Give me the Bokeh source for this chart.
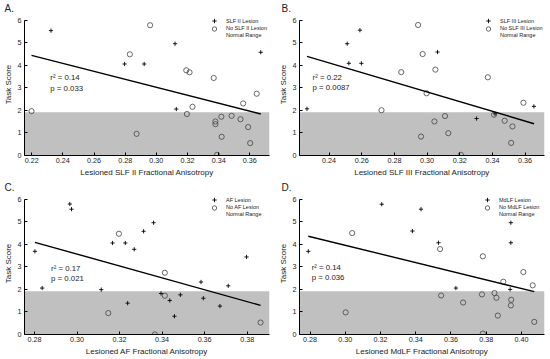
from bokeh.plotting import figure
from bokeh.models import (Range1d, FixedTicker, BoxAnnotation, Legend, LegendItem, Label,
                          PrintfTickFormatter)
from bokeh.layouts import gridplot
from bokeh.embed import file_html
from bokeh.resources import INLINE

# ---------------- data ----------------
y_ticks = [0, 1, 2, 3, 4, 5, 6]
normal_max = 1.92

# A. SLF II
slf2_lesion_fa = [0.2324, 0.2796, 0.2922, 0.3120, 0.3128, 0.3670]
slf2_lesion_score = [5.54, 4.06, 4.06, 4.96, 2.06, 4.58]
slf2_nolesion_fa = [0.2199, 0.2830, 0.2873, 0.2960, 0.3192, 0.3196, 0.3213, 0.3232, 0.3368, 0.3379,
                    0.3379, 0.3390, 0.3417, 0.3419, 0.3483, 0.3540, 0.3557, 0.3589, 0.3602, 0.3644]
slf2_nolesion_score = [1.97, 4.49, 0.96, 5.78, 3.78, 1.84, 3.69, 2.16, 3.44, 1.51,
                       1.39, 0.03, 1.72, 0.83, 1.76, 1.61, 2.31, 1.26, 0.55, 2.74]
slf2_fit_fa = [0.2199, 0.3670]
slf2_fit_score = [4.44, 1.84]
slf2_xticks = [0.22, 0.24, 0.26, 0.28, 0.30, 0.32, 0.34, 0.36]

# B. SLF III
slf3_lesion_fa = [0.2265, 0.2511, 0.2521, 0.2589, 0.2598, 0.3064, 0.3303, 0.3416, 0.3654]
slf3_lesion_score = [2.07, 4.96, 4.09, 5.56, 4.09, 4.59, 1.64, 1.85, 2.18]
slf3_nolesion_fa = [0.2721, 0.2842, 0.2945, 0.2973, 0.2963, 0.2997, 0.3045, 0.3051, 0.3110,
                    0.3130, 0.3207, 0.3372, 0.3410, 0.3475, 0.3515, 0.3523, 0.3590]
slf3_nolesion_score = [2.01, 3.70, 5.79, 4.50, 0.84, 2.76, 1.51, 3.81, 1.75,
                       0.99, 0.03, 3.47, 1.81, 1.54, 0.56, 1.29, 2.34]
slf3_fit_fa = [0.2265, 0.3655]
slf3_fit_score = [4.40, 1.41]
slf3_xticks = [0.24, 0.26, 0.28, 0.30, 0.32, 0.34, 0.36]

# C. AF
af_lesion_fa = [0.2802, 0.2836, 0.2966, 0.2974, 0.3114, 0.3167, 0.3227, 0.3238, 0.3269, 0.3313,
                0.3360, 0.3395, 0.3436, 0.3458, 0.3486, 0.3583, 0.3594, 0.3672, 0.3711, 0.3797]
af_lesion_score = [3.69, 2.06, 5.79, 5.56, 1.99, 4.06, 4.06, 1.39, 3.78, 4.58,
                   4.96, 1.82, 1.51, 0.81, 1.76, 2.33, 1.61, 1.26, 2.16, 3.44]
af_nolesion_fa = [0.3147, 0.3197, 0.3366, 0.3413, 0.3413, 0.3863]
af_nolesion_score = [0.95, 4.47, 0.00, 2.74, 1.72, 0.53]
af_fit_fa = [0.2802, 0.3863]
af_fit_score = [4.09, 1.29]
af_xticks = [0.28, 0.30, 0.32, 0.34, 0.36, 0.38]

# D. MdLF
mdlf_lesion_fa = [0.2790, 0.3207, 0.3381, 0.3430, 0.3529, 0.3628, 0.3936, 0.3940, 0.3940]
mdlf_lesion_score = [3.69, 5.78, 4.59, 5.56, 4.07, 2.06, 2.00, 4.07, 4.96]
mdlf_nolesion_fa = [0.3002, 0.3039, 0.3538, 0.3544, 0.3669, 0.3776, 0.3781, 0.3781, 0.3847,
                    0.3858, 0.3866, 0.3897, 0.3940, 0.3942, 0.4011, 0.4064, 0.4073]
mdlf_nolesion_score = [0.98, 4.50, 3.79, 1.73, 1.42, 1.78, 3.47, 0.04, 1.84,
                       1.63, 0.84, 2.34, 1.29, 1.54, 2.77, 2.18, 0.56]
mdlf_fit_fa = [0.2790, 0.4073]
mdlf_fit_score = [4.36, 1.90]
mdlf_xticks = [0.28, 0.30, 0.32, 0.34, 0.36, 0.38, 0.40]

stats_r2 = ["0.14", "0.22", "0.17", "0.14"]
stats_p = ["0.033", "0.0087", "0.021", "0.036"]

# ---------------- styling ----------------
FONT = "Liberation Sans"
GRAY = "#c0c0c0"
TXT = "#222222"
W, H = 275, 179
TOP, BOTTOM, RIGHT = 13, 24, 6


def make_panel(letter, tract, les_x, les_y, no_x, no_y, fit_x, fit_y, r2, pv,
               xr, xticks, left, txt_x, txt_y1, txt_y2, leg_x):
    p = figure(width=W, height=H, x_range=Range1d(*xr), y_range=Range1d(0, 6.3),
               output_backend="svg", toolbar_location=None,
               min_border_left=left, min_border_right=RIGHT,
               min_border_top=TOP, min_border_bottom=BOTTOM)
    p.outline_line_color = None
    p.xgrid.visible = False
    p.ygrid.visible = False
    p.background_fill_color = "white"
    p.border_fill_color = "white"

    p.title.text = letter
    p.title.text_font = FONT
    p.title.text_font_size = "10px"
    p.title.text_font_style = "normal"
    p.title.text_color = TXT
    p.title.align = "left"
    p.title.offset = -(left - 3)
    p.title.standoff = 0

    band = BoxAnnotation(bottom=0, top=normal_max, fill_color=GRAY, fill_alpha=1.0,
                         line_color=None, level="underlay")
    p.add_layout(band)

    for ax in (p.xaxis[0], p.yaxis[0]):
        ax.axis_line_color = "black"
        ax.axis_line_width = 1
        ax.major_tick_in = 3
        ax.major_tick_out = 0
        ax.minor_tick_line_color = None
        ax.major_label_text_font = FONT
        ax.major_label_text_font_size = "7.2px"
        ax.major_label_text_color = TXT
        ax.axis_label_text_font = FONT
        ax.axis_label_text_font_size = "8px"
        ax.axis_label_text_font_style = "normal"
        ax.axis_label_text_color = TXT
    p.xaxis[0].ticker = FixedTicker(ticks=xticks)
    p.xaxis[0].formatter = PrintfTickFormatter(format="%.2f")
    p.yaxis[0].ticker = FixedTicker(ticks=y_ticks)
    p.yaxis[0].bounds = (y_ticks[0], y_ticks[-1])
    p.xaxis[0].major_label_standoff = 2
    p.xaxis[0].axis_label_standoff = 2
    p.yaxis[0].major_label_standoff = 3
    p.yaxis[0].axis_label_standoff = 2
    p.xaxis[0].axis_label = f"Lesioned {tract} Fractional Anisotropy"
    p.yaxis[0].axis_label = "Task Score"

    r_no = p.scatter(no_x, no_y, marker="circle", size=5.2, fill_color=None,
                     line_color="#444444", line_width=0.8)
    r_les = p.scatter(les_x, les_y, marker="cross", size=4.2, line_color="black", line_width=0.9)
    p.line(fit_x, fit_y, line_color="black", line_width=1.4)
    r_band = p.line(x=[], y=[], line_color=GRAY, line_width=4.5)

    p.add_layout(Label(x=txt_x, y=txt_y1, text=f"r\u00b2 = {r2}", text_baseline="middle",
                       text_font=FONT, text_font_size="7.8px", text_color=TXT))
    p.add_layout(Label(x=txt_x, y=txt_y2, text=f"p = {pv}", text_baseline="middle",
                       text_font=FONT, text_font_size="7.8px", text_color=TXT))

    entries = [(f"{tract} Lesion", r_les, 128.8),
               (f"No {tract} Lesion", r_no, 121.5),
               ("Normal Range", r_band, 114.5)]
    for lab, rend, ypos in entries:
        lg = Legend(items=[LegendItem(label=lab, renderers=[rend])],
                    location=(leg_x, ypos), orientation="vertical",
                    glyph_width=18, glyph_height=11, label_height=11, spacing=0,
                    padding=0, margin=0, label_standoff=3,
                    label_text_font=FONT, label_text_font_size="5.5px", label_text_color=TXT,
                    background_fill_alpha=0, border_line_alpha=0)
        p.add_layout(lg)
    return p


pa = make_panel("A.", "SLF II", slf2_lesion_fa, slf2_lesion_score, slf2_nolesion_fa, slf2_nolesion_score,
                slf2_fit_fa, slf2_fit_score, stats_r2[0], stats_p[0],
                (0.2154, 0.3726), slf2_xticks, 23, 0.232, 3.47, 2.98, 181)
pb = make_panel("B.", "SLF III", slf3_lesion_fa, slf3_lesion_score, slf3_nolesion_fa, slf3_nolesion_score,
                slf3_fit_fa, slf3_fit_score, stats_r2[1], stats_p[1],
                (0.2219, 0.3719), slf3_xticks, 21, 0.2299, 3.45, 3.01, 180)
pc = make_panel("C.", "AF", af_lesion_fa, af_lesion_score, af_nolesion_fa, af_nolesion_score,
                af_fit_fa, af_fit_score, stats_r2[2], stats_p[2],
                (0.2753, 0.3905), af_xticks, 23, 0.2878, 2.92, 2.49, 181)
pd = make_panel("D.", "MdLF", mdlf_lesion_fa, mdlf_lesion_score, mdlf_nolesion_fa, mdlf_nolesion_score,
                mdlf_fit_fa, mdlf_fit_score, stats_r2[3], stats_p[3],
                (0.2740, 0.4131), mdlf_xticks, 21, 0.2809, 2.96, 2.52, 179)

grid = gridplot([[pa, pb], [pc, pd]], toolbar_location=None)
grid.spacing = 0

open("out.html", "w").write(file_html(grid, INLINE))
